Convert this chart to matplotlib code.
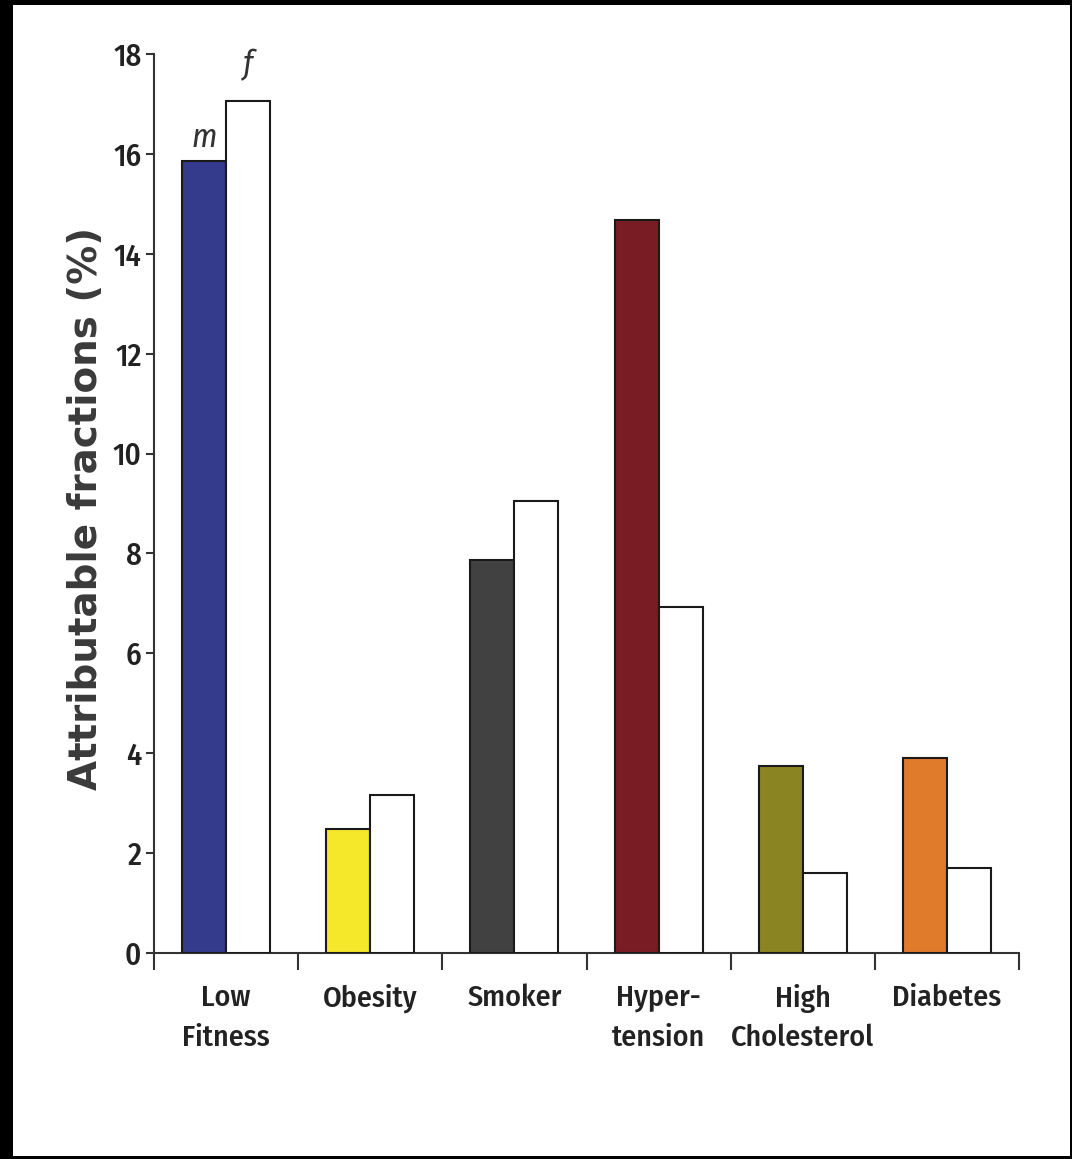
import numpy as np
import matplotlib.pyplot as plt
from matplotlib.patches import Rectangle

# Datos
categorias = ['Low\nFitness', 'Obesity', 'Smoker', 'Hyper-\ntension', 'High\nCholesterol', 'Diabetes']
hombres = [15.85, 2.48, 7.86, 14.67, 3.75, 3.9]
mujeres = [17.05, 3.17, 9.06, 6.93, 1.6, 1.7]
colores = ['#343a8c', '#f5e72a', '#414141', '#7a1c24', '#8a8423', '#e07b2c']

fuente = ['Fira Sans Condensed', 'PT Sans Narrow', 'DejaVu Sans']

fig = plt.figure(figsize=(10.72, 11.59), dpi=100, facecolor='black')
# marco blanco dentro del borde negro
fig.patches.append(Rectangle((13 / 1072, 3 / 1159), (1070 - 13) / 1072, (1154 - 3) / 1159,
                             transform=fig.transFigure, facecolor='white', edgecolor='none', zorder=-5))

ax = fig.add_axes([154 / 1072, (1159 - 953) / 1159, (1019 - 154) / 1072, (953 - 54) / 1159])
ax.set_facecolor('none')

x = np.arange(len(categorias)) + 0.5
ancho = 0.305
ax.bar(x - ancho / 2, hombres, ancho, color=colores, edgecolor='#1a1a1a', linewidth=1.5, zorder=3)
ax.bar(x + ancho / 2, mujeres, ancho, color='white', edgecolor='#1a1a1a', linewidth=1.5, zorder=3)

# etiquetas m / f
ax.text(x[0] - ancho / 2, hombres[0] + 0.15, 'm', ha='center', va='bottom',
        fontsize=24, style='italic', family=fuente, color='#333333')
ax.text(x[0] + ancho / 2, mujeres[0] + 0.4, 'f', ha='center', va='bottom',
        fontsize=24, style='italic', family=fuente, color='#333333')

ax.set_xlim(0, 6)
ax.set_ylim(0, 18)
ax.set_yticks(range(0, 19, 2))
ax.set_yticklabels([str(v) for v in range(0, 19, 2)], family=fuente, fontsize=22,
                   fontweight='medium', color='#222222')
ax.tick_params(axis='y', length=6, width=1.5, pad=3, color='#333333')

ax.set_xticks(range(0, 7))
ax.set_xticklabels([])
ax.tick_params(axis='x', which='major', length=12, width=1.5, color='#333333')
ax.set_xticks(x, minor=True)
ax.set_xticklabels(categorias, minor=True, family=fuente, fontsize=21.5, fontweight='medium',
                   color='#222222', linespacing=1.5, va='top')
ax.tick_params(axis='x', which='minor', length=0, pad=22)

for lado in ['top', 'right']:
    ax.spines[lado].set_visible(False)
for lado in ['left', 'bottom']:
    ax.spines[lado].set_linewidth(1.5)
    ax.spines[lado].set_color('#333333')

ax.set_ylabel('Attributable fractions (%)', fontsize=28, fontweight='bold', color='#3a3a3a')
ax.yaxis.set_label_coords(-0.057, 0.494)

fig.savefig('out.png', dpi=100, facecolor=fig.get_facecolor())
